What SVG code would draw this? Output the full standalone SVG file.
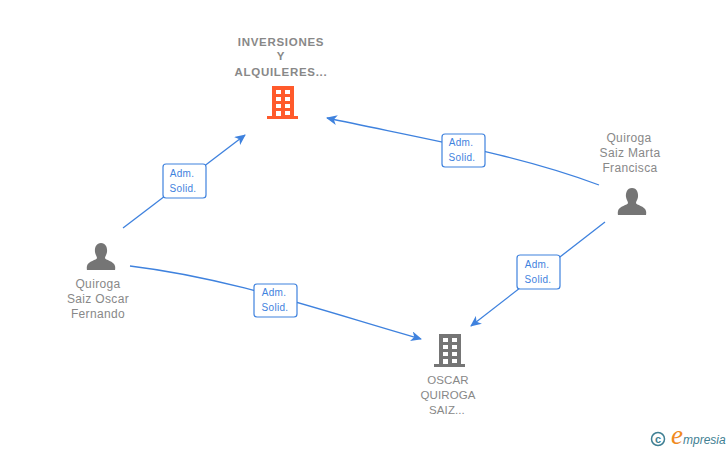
<svg xmlns="http://www.w3.org/2000/svg" width="728" height="450" viewBox="0 0 728 450">
<style>
text{font-family:"Liberation Sans",Arial,sans-serif}
.n{font-size:12px;fill:#888;text-anchor:middle;letter-spacing:.35px}
.u{font-size:11.5px;letter-spacing:.1px}
.b{font-weight:bold;font-size:11.5px;letter-spacing:.7px}
.e{fill:none;stroke:#3f82de;stroke-width:1.3}
.box{fill:#fff;stroke:#3f82de;stroke-width:1.2}
.l{font-size:10px;fill:#3f82de;text-anchor:middle;letter-spacing:.3px}
</style>
<defs>
<marker id="a" markerWidth="12" markerHeight="10" refX="10" refY="5" orient="auto" markerUnits="userSpaceOnUse"><path d="M0 0L11 5L0 10L3 5Z" fill="#3f82de"/></marker>
<g id="bld">
<path d="M-11 -17H11V13H15V16H-16V13H-11ZM-7 -13V-9H-2V-13ZM2 -13V-9H7V-13ZM-7 -6V-2H-2V-6ZM2 -6V-2H7V-6ZM-7 1V5H-2V1ZM2 1V5H7V1ZM-7 8V13H-2V8ZM2 8V12H7V8Z" fill-rule="evenodd"/>
</g>
<path id="per" d="M0 -15C5 -15 6.500 -10 6 -6C5.500 -3 4 -1.500 4 0C4 2 13 3 14 8C14.500 10 14 12 14 12H-14C-14 12 -14.500 10 -14 8C-13 3 -4 2 -4 0C-4 -1.500 -5.500 -3 -6 -6C-6.500 -10 -5 -15 0 -15Z" fill="#757575"/>
</defs>
<g id="connectors">
<path class="e" marker-end="url(#a)" d="M123 228L245 135"/>
<path class="e" marker-end="url(#a)" d="M599 185C520 155 430 140 327 118"/>
<path class="e" marker-end="url(#a)" d="M130 266C230 278 320 310 421 339"/>
<path class="e" marker-end="url(#a)" d="M605 222L471 326"/>
</g>
<g id="edge-label-1"><rect class="box" x="163" y="164" width="43" height="34" rx="3"/><text class="l" x="182" y="177">Adm.</text><text class="l" x="183" y="192">Solid.</text></g>
<g id="edge-label-2"><rect class="box" x="442" y="134" width="43" height="33" rx="3"/><text class="l" x="461" y="146">Adm.</text><text class="l" x="462" y="161">Solid.</text></g>
<g id="edge-label-3"><rect class="box" x="254" y="284" width="43" height="33" rx="3"/><text class="l" x="274" y="296">Adm.</text><text class="l" x="275" y="311">Solid.</text></g>
<g id="edge-label-4"><rect class="box" x="517" y="255" width="43" height="34" rx="3"/><text class="l" x="537" y="268">Adm.</text><text class="l" x="538" y="283">Solid.</text></g>
<g id="node-inversiones">
<text class="n b" x="281" y="46">INVERSIONES</text><text class="n b" x="281" y="60">Y</text><text class="n b" x="281" y="76">ALQUILERES...</text>
<use href="#bld" x="283" y="103" fill="#ff5a2b"/>
</g>
<g id="node-oscar-fernando">
<use href="#per" x="101" y="258"/>
<text class="n" x="98" y="288">Quiroga</text><text class="n" x="98" y="303">Saiz Oscar</text><text class="n" x="98" y="318">Fernando</text>
</g>
<g id="node-marta">
<text class="n" x="629" y="142">Quiroga</text><text class="n" x="630" y="157">Saiz Marta</text><text class="n" x="630" y="172">Francisca</text>
<use href="#per" x="632" y="203"/>
</g>
<g id="node-oscar-quiroga">
<use href="#bld" x="450" y="351" fill="#757575"/>
<text class="n u" x="448" y="384">OSCAR</text><text class="n u" x="448" y="399">QUIROGA</text><text class="n u" x="447" y="414">SAIZ...</text>
</g>
<g id="copyright">
<circle cx="658" cy="439" r="6.500" fill="none" stroke="#3f7f93" stroke-width="1.500"/>
<text x="658" y="443" font-size="11" font-weight="bold" fill="#3f7f93" text-anchor="middle">c</text>
<text x="671" y="444" font-size="27" font-style="italic" fill="#f08a1d" style="font-family:'Liberation Serif',serif">e</text>
<text x="683" y="444" font-size="12" font-style="italic" fill="#3f7f93">mpresia</text>
</g>
</svg>
